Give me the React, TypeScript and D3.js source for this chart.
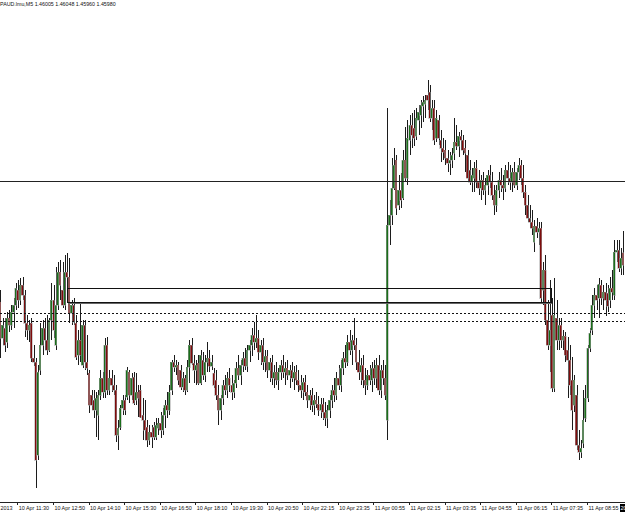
import React from "react";
import * as d3 from "d3";

const symbolLabel = "PAUD.lmu,M5";
const lastQuote = [1.46005, 1.46048, 1.4596, 1.4598];

// [open, high, low, close] for each M5 bar
const ohlc: [number, number, number, number][] = [
  [1.45906,1.4593,1.45794,1.45834],[1.45834,1.45874,1.4582,1.4586],[1.45854,1.45874,1.45806,1.4582],[1.45826,1.45886,1.45814,1.45874],
  [1.45874,1.4589,1.45846,1.4586],[1.4586,1.459,1.4585,1.45886],[1.45886,1.45914,1.45854,1.459],[1.459,1.45944,1.4589,1.45934],
  [1.4593,1.4595,1.45894,1.4591],[1.4591,1.45954,1.459,1.4594],[1.4594,1.45956,1.4591,1.4592],[1.4592,1.4593,1.45836,1.45864],
  [1.45864,1.4588,1.4583,1.4585],[1.4585,1.4587,1.45826,1.4586],[1.45864,1.45874,1.45786,1.45794],[1.45794,1.4582,1.45778,1.45786],
  [1.45786,1.45794,1.45534,1.4559],[1.456,1.4578,1.4559,1.45766],[1.4577,1.45864,1.4576,1.4582],[1.4582,1.4587,1.458,1.45854],
  [1.45854,1.45874,1.4581,1.4583],[1.4583,1.4588,1.458,1.4581],[1.4581,1.45874,1.45806,1.4587],[1.4587,1.45944,1.4583,1.4591],
  [1.4591,1.4594,1.45834,1.4585],[1.4582,1.45976,1.4581,1.459],[1.459,1.45986,1.4589,1.45966],[1.45966,1.4599,1.4591,1.4594],
  [1.4593,1.45986,1.45894,1.459],[1.459,1.46,1.4589,1.45966],[1.45966,1.46004,1.4593,1.45956],[1.45956,1.45994,1.45864,1.45884],
  [1.45884,1.4591,1.4586,1.459],[1.459,1.45914,1.4586,1.45866],[1.45864,1.4588,1.4579,1.45796],[1.458,1.4585,1.4578,1.4583],
  [1.4583,1.45906,1.45786,1.458],[1.4578,1.4587,1.45774,1.4586],[1.4586,1.4587,1.4577,1.45786],[1.45786,1.4584,1.4576,1.45774],
  [1.45764,1.4577,1.45684,1.457],[1.4572,1.4573,1.4569,1.457],[1.4571,1.4573,1.45674,1.4569],[1.4569,1.45726,1.45636,1.45714],
  [1.4568,1.4573,1.4563,1.4572],[1.4572,1.4577,1.4571,1.45754],[1.45754,1.45766,1.45714,1.45726],[1.45726,1.45834,1.45714,1.4582],
  [1.4582,1.45836,1.4572,1.4573],[1.4573,1.4577,1.4572,1.45754],[1.45754,1.4577,1.45726,1.4574],[1.4574,1.4576,1.4572,1.4573],
  [1.4573,1.4574,1.45626,1.4564],[1.4564,1.4567,1.4561,1.45654],[1.45656,1.457,1.4565,1.45694],[1.45694,1.4572,1.4568,1.4571],
  [1.4571,1.4572,1.4568,1.4569],[1.45716,1.45776,1.4571,1.4577],[1.45766,1.4577,1.45704,1.4572],[1.4572,1.45764,1.4571,1.45754],
  [1.45756,1.45766,1.457,1.45704],[1.4571,1.45764,1.457,1.45726],[1.45726,1.4574,1.45676,1.45714],[1.4573,1.4574,1.45674,1.45676],
  [1.4568,1.45714,1.4563,1.4567],[1.4567,1.4571,1.4563,1.4565],[1.45656,1.4567,1.45616,1.4563],[1.4563,1.4566,1.4562,1.45646],
  [1.45646,1.4566,1.45614,1.45636],[1.45656,1.45666,1.4563,1.45636],[1.45636,1.45674,1.4563,1.4566],[1.45654,1.45674,1.4564,1.45664],
  [1.45664,1.45686,1.45634,1.4565],[1.4565,1.45694,1.4564,1.4568],[1.4568,1.4571,1.45654,1.457],[1.457,1.45726,1.45674,1.4569],
  [1.4569,1.4574,1.4568,1.45726],[1.4573,1.4579,1.4572,1.45786],[1.45786,1.458,1.45766,1.45776],[1.45776,1.4579,1.4576,1.4578],
  [1.4578,1.45786,1.4574,1.4575],[1.4577,1.4578,1.4573,1.45736],[1.45736,1.45766,1.45726,1.45754],[1.45754,1.4576,1.4572,1.4573],
  [1.4573,1.4579,1.45726,1.45776],[1.45776,1.4583,1.45744,1.4582],[1.4582,1.45834,1.4578,1.45784],[1.45784,1.458,1.45744,1.4577],
  [1.4577,1.4579,1.4574,1.4578],[1.45784,1.458,1.4574,1.45744],[1.45744,1.4581,1.4574,1.458],[1.4579,1.45806,1.4575,1.4576],
  [1.4576,1.458,1.45746,1.45786],[1.45786,1.45826,1.45766,1.45794],[1.45794,1.4581,1.45766,1.45778],[1.45778,1.458,1.4577,1.45786],
  [1.45764,1.45774,1.45734,1.4574],[1.4575,1.4577,1.4571,1.4572],[1.4572,1.4574,1.4566,1.4569],[1.4569,1.4572,1.4567,1.45714],
  [1.45714,1.4575,1.457,1.4574],[1.4574,1.4576,1.4572,1.4573],[1.4573,1.45766,1.45714,1.45754],[1.45754,1.45774,1.45726,1.4574],
  [1.4574,1.4576,1.4571,1.45726],[1.45726,1.4575,1.45714,1.45744],[1.45744,1.45786,1.45734,1.45774],[1.45774,1.458,1.4575,1.4576],
  [1.4576,1.4579,1.4574,1.4578],[1.4578,1.45806,1.45766,1.45794],[1.45794,1.45814,1.4577,1.45778],[1.45778,1.4582,1.45766,1.4581],
  [1.4581,1.4583,1.45786,1.4582],[1.4582,1.45854,1.45798,1.4584],[1.4584,1.45866,1.4581,1.45826],[1.45826,1.4588,1.45814,1.45834],
  [1.45834,1.4585,1.4579,1.45806],[1.45806,1.4583,1.4578,1.4582],[1.4582,1.45834,1.4577,1.45786],[1.45786,1.4581,1.45766,1.45798],
  [1.45798,1.4581,1.45754,1.4577],[1.4577,1.45794,1.45746,1.45786],[1.45786,1.458,1.4574,1.45754],[1.45754,1.4578,1.45734,1.45766],
  [1.45766,1.45786,1.4574,1.4575],[1.4575,1.45774,1.4573,1.45766],[1.45766,1.4579,1.4575,1.4578],[1.4578,1.458,1.45754,1.45766],
  [1.45766,1.45786,1.4574,1.45774],[1.45774,1.4579,1.4575,1.4576],[1.4576,1.4578,1.45734,1.4577],[1.4577,1.45786,1.45746,1.45754],
  [1.45754,1.45778,1.4573,1.45766],[1.45766,1.4578,1.4574,1.4575],[1.4575,1.4577,1.45726,1.4574],[1.4574,1.4576,1.45714,1.4573],
  [1.4573,1.45754,1.4571,1.45746],[1.45746,1.4576,1.45718,1.45726],[1.45726,1.4574,1.45694,1.4571],[1.4571,1.4573,1.4569,1.4572],
  [1.4572,1.45734,1.45686,1.457],[1.457,1.4572,1.4568,1.4571],[1.4571,1.45726,1.45694,1.45702],[1.45702,1.45718,1.45678,1.4569],
  [1.4569,1.45714,1.45674,1.45702],[1.45702,1.45714,1.4567,1.45686],[1.45686,1.45706,1.45658,1.45674],[1.45674,1.457,1.45654,1.4569],
  [1.4569,1.4572,1.45674,1.4571],[1.4571,1.4574,1.45694,1.4573],[1.4573,1.45754,1.45706,1.4572],[1.4572,1.45766,1.4571,1.45754],
  [1.45754,1.4578,1.4573,1.4574],[1.4574,1.4579,1.45726,1.45774],[1.45774,1.45806,1.4576,1.45794],[1.45794,1.4582,1.45774,1.45786],
  [1.45786,1.4584,1.45778,1.45826],[1.45826,1.4585,1.458,1.4581],[1.4581,1.4584,1.4578,1.4583],[1.4583,1.45874,1.4581,1.4582],
  [1.4582,1.45834,1.4577,1.45786],[1.45786,1.4581,1.4575,1.45766],[1.45766,1.45794,1.4574,1.4578],[1.4578,1.458,1.45734,1.4575],
  [1.4575,1.45774,1.4572,1.4574],[1.4574,1.4577,1.4573,1.4576],[1.4576,1.4578,1.4574,1.4575],[1.4575,1.45786,1.45726,1.45774],
  [1.45774,1.4579,1.4574,1.45754],[1.45754,1.45794,1.45734,1.4578],[1.4578,1.458,1.4572,1.4573],[1.4573,1.4578,1.45714,1.4577],
  [1.4577,1.4579,1.4574,1.45754],[1.45754,1.4578,1.4571,1.4572],[1.4567,1.46294,1.4563,1.4606],[1.4606,1.4611,1.4602,1.4608],
  [1.4608,1.46194,1.4606,1.46134],[1.46134,1.46214,1.4613,1.4618],[1.4619,1.462,1.4608,1.46094],[1.461,1.4616,1.4609,1.4613],
  [1.4613,1.46164,1.46094,1.4611],[1.46114,1.4621,1.4611,1.4619],[1.4619,1.46256,1.46146,1.46154],[1.46154,1.4627,1.4614,1.46234],
  [1.4623,1.4628,1.462,1.4626],[1.4626,1.46284,1.46214,1.4624],[1.46254,1.4629,1.46218,1.46234],[1.46238,1.46294,1.4623,1.46274],
  [1.4627,1.463,1.4624,1.46286],[1.4628,1.4631,1.46254,1.463],[1.46298,1.46318,1.46266,1.46306],[1.46302,1.4632,1.46274,1.4631],
  [1.4632,1.4635,1.4629,1.4631],[1.46326,1.4634,1.46266,1.46274],[1.46274,1.4631,1.4625,1.46294],[1.46294,1.4631,1.4622,1.4623],
  [1.46234,1.4629,1.46226,1.46274],[1.4627,1.4628,1.4622,1.46234],[1.4623,1.4625,1.46186,1.46214],[1.46214,1.46234,1.4619,1.46206],
  [1.4621,1.4623,1.4618,1.46194],[1.46194,1.4621,1.46166,1.46184],[1.46184,1.46206,1.4616,1.4619],[1.4619,1.46214,1.46174,1.462],
  [1.46204,1.46274,1.4619,1.46226],[1.46226,1.4626,1.4621,1.46218],[1.46218,1.46246,1.46196,1.46238],[1.46238,1.4625,1.4621,1.4623],
  [1.4623,1.4624,1.462,1.4621],[1.46214,1.4623,1.46166,1.46204],[1.462,1.4621,1.46146,1.46154],[1.4617,1.4619,1.4614,1.46146],
  [1.46146,1.46174,1.46126,1.4616],[1.46154,1.46186,1.46126,1.46174],[1.46174,1.4619,1.46134,1.46146],[1.46146,1.4617,1.4612,1.46134],
  [1.46134,1.4616,1.4611,1.4615],[1.4615,1.46166,1.4612,1.4613],[1.4613,1.46154,1.461,1.4614],[1.4614,1.4617,1.4612,1.4616],
  [1.4616,1.4618,1.46134,1.46146],[1.46146,1.46166,1.4611,1.4612],[1.4612,1.4614,1.4608,1.461],[1.461,1.4614,1.46086,1.4613],
  [1.4613,1.46166,1.46114,1.4615],[1.4615,1.46174,1.46126,1.4614],[1.4614,1.4616,1.4611,1.46134],[1.46134,1.4618,1.46126,1.4617],
  [1.4617,1.46186,1.4614,1.46154],[1.46154,1.4618,1.4613,1.46146],[1.46146,1.46174,1.46126,1.46166],[1.46166,1.46186,1.46134,1.4614],
  [1.4614,1.46174,1.4613,1.46166],[1.46166,1.46194,1.4615,1.4618],[1.4618,1.4619,1.4614,1.46154],[1.46154,1.4618,1.46114,1.46126],
  [1.46126,1.4614,1.4608,1.461],[1.461,1.4612,1.46066,1.46074],[1.46074,1.461,1.46054,1.46066],[1.46066,1.4609,1.4604,1.46054],
  [1.46026,1.4607,1.46006,1.46058],[1.46058,1.46074,1.46034,1.46046],[1.46046,1.46066,1.4602,1.46054],[1.46054,1.46066,1.45904,1.45914],
  [1.4593,1.45986,1.459,1.4597],[1.4597,1.46,1.4586,1.4587],[1.4587,1.4591,1.4581,1.4582],[1.4582,1.4595,1.45766,1.4585],
  [1.4588,1.45914,1.45726,1.45734],[1.45734,1.45954,1.45726,1.4588],[1.45874,1.4591,1.4581,1.4583],[1.4583,1.45874,1.4581,1.4586],
  [1.4586,1.45874,1.45814,1.4583],[1.4583,1.4585,1.4581,1.45838],[1.45838,1.45846,1.45786,1.458],[1.4581,1.45836,1.45714,1.4579],
  [1.4579,1.4582,1.4572,1.4574],[1.4575,1.45796,1.4565,1.4569],[1.457,1.4576,1.45686,1.4575],[1.4572,1.4574,1.4561,1.4562],
  [1.4562,1.4565,1.4559,1.45606],[1.45606,1.4563,1.45594,1.45614],[1.45624,1.4573,1.45614,1.4567],[1.45674,1.4574,1.45666,1.45714],
  [1.45714,1.4582,1.45706,1.45814],[1.45814,1.45854,1.45806,1.45844],[1.4585,1.4592,1.4584,1.459],[1.459,1.45934,1.45874,1.4592],
  [1.4592,1.4594,1.4589,1.4591],[1.45914,1.45954,1.45874,1.45942],[1.4594,1.4595,1.459,1.45914],[1.45914,1.4594,1.4589,1.45926],
  [1.45926,1.45944,1.45878,1.4591],[1.45924,1.4594,1.45886,1.45898],[1.4591,1.45956,1.45894,1.45934],[1.45934,1.4597,1.4591,1.45926],
  [1.4592,1.4603,1.4591,1.46006],[1.46006,1.4603,1.45986,1.4601],[1.4601,1.4603,1.45966,1.45974],[1.45974,1.46014,1.4596,1.45994],
  [1.46005,1.46048,1.4596,1.4598],
];

const tickBars = [-8, 8, 24, 40, 56, 72, 88, 104, 120, 136, 152, 168, 184, 200, 216, 232, 248, 264];
const tickLabels = [
  "2013", "10 Apr 11:30", "10 Apr 12:50", "10 Apr 14:10", "10 Apr 15:30", "10 Apr 16:50",
  "10 Apr 18:10", "10 Apr 19:30", "10 Apr 20:50", "10 Apr 22:15", "10 Apr 23:35", "11 Apr 00:55",
  "11 Apr 02:15", "11 Apr 03:35", "11 Apr 04:55", "11 Apr 06:15", "11 Apr 07:35", "11 Apr 08:55",
];
const cursorLabel = "20";

const horizontalLevel = 1.46148;
const zonePrices = [1.45934, 1.45906];
const zoneBars = [30.5, 248];
const dottedLevels = [1.45884, 1.45868];

export default function App() {
  const W = 625;
  const H = 512;
  const axisY = 502;
  const x = d3.scaleLinear().domain([0, 280]).range([0, 623]);
  const y = d3.scaleLinear().domain([1.4651, 1.45506]).range([0, axisY]);
  const font = "'Liberation Sans', Arial, sans-serif";
  const bodyW = 1.8;

  return (
    <svg
      width={W}
      height={H}
      style={{ position: "absolute", left: 0, top: 0, background: "#fff" }}
      shapeRendering="crispEdges"
    >
      <rect x={0} y={0} width={W} height={H} fill="#fff" />
      {/* candles */}
      <g>
        {ohlc.map(([o, h, l, c], i) => {
          const cx = x(i);
          const top = y(Math.max(o, c));
          const bot = y(Math.min(o, c));
          const bull = c >= o;
          return (
            <g key={i}>
              <line x1={cx + 0.8} x2={cx + 0.8} y1={y(h)} y2={y(l)} stroke="#1c1c1c" strokeWidth={1} />
              <rect
                x={cx - bodyW / 2}
                y={top}
                width={bodyW}
                height={Math.max(1, bot - top)}
                fill={bull ? "#1a6e1a" : "#7e0c0c"}
                stroke="#a0a0a0"
                strokeWidth={0.5}
              />
            </g>
          );
        })}
      </g>
      {/* horizontal level */}
      <line x1={0} x2={W} y1={y(horizontalLevel)} y2={y(horizontalLevel)} stroke="#222" strokeWidth={1} />
      {/* zone rectangle */}
      <rect
        x={x(zoneBars[0])}
        y={y(zonePrices[0])}
        width={x(zoneBars[1]) - x(zoneBars[0])}
        height={y(zonePrices[1]) - y(zonePrices[0])}
        fill="none"
        stroke="#111"
        strokeWidth={1}
      />
      <line
        x1={x(zoneBars[0])}
        x2={x(zoneBars[1])}
        y1={y(zonePrices[1]) + 1}
        y2={y(zonePrices[1]) + 1}
        stroke="#666"
        strokeWidth={1}
      />
      {/* dotted levels */}
      {dottedLevels.map((p, i) => (
        <line key={i} x1={0} x2={W} y1={y(p)} y2={y(p)} stroke="#111" strokeWidth={1} strokeDasharray="2,2" />
      ))}
      {/* time axis */}
      <line x1={0} x2={W} y1={axisY} y2={axisY} stroke="#222" strokeWidth={1} />
      {tickBars.map((b, i) => (
        <g key={i}>
          <line x1={x(b)} x2={x(b)} y1={axisY} y2={axisY + 3} stroke="#222" strokeWidth={1} />
          <text x={i === 0 ? 0.5 : x(b) + 1} y={510} fontFamily={font} fontSize={5.4} fill="#111">
            {tickLabels[i]}
          </text>
        </g>
      ))}
      <rect x={620} y={504} width={6} height={8} fill="#000" />
      <text x={620.5} y={510} fontFamily={font} fontSize={5.4} fill="#fff">
        {cursorLabel}
      </text>
      {/* header */}
      <text x={0} y={6} fontFamily={font} fontSize={5.3} fill="#111">
        {symbolLabel + "  " + lastQuote.map((v) => v.toFixed(5)).join(" ")}
      </text>
    </svg>
  );
}
